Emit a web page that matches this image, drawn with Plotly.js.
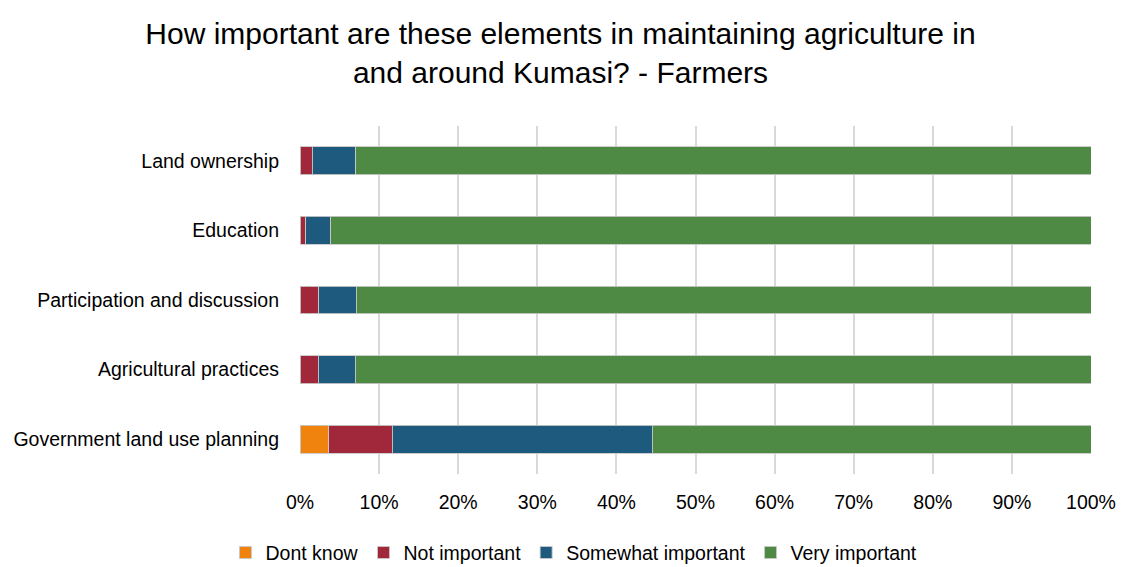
<!DOCTYPE html>
<html>
<head>
<meta charset="utf-8">
<script src="https://cdn.plot.ly/plotly-3.0.1.min.js"></script>
<style>html,body{margin:0;padding:0;background:#fff;}#chart{width:1121px;height:567px;}</style>
</head>
<body>
<div id="chart"></div>
<script>
const categories = ["Land ownership", "Education", "Participation and discussion", "Agricultural practices", "Government land use planning"];
const seriesNames = ["Dont know", "Not important", "Somewhat important", "Very important"];
const dontKnow = [0, 0, 0, 0, 3.65];
const notImportant = [1.55, 0.75, 2.4, 2.3, 8.0];
const somewhatImportant = [5.5, 3.15, 4.7, 4.7, 32.85];
const veryImportant = [92.95, 96.1, 92.9, 93.0, 55.5];
const seriesValues = [dontKnow, notImportant, somewhatImportant, veryImportant];
const colors = ["#F0820E", "#A1283A", "#1E5A7E", "#4F8A45"];
const tickVals = [0,10,20,30,40,50,60,70,80,90,100];
const tickText = ["0%","10%","20%","30%","40%","50%","60%","70%","80%","90%","100%"];

const FONT = "'Liberation Sans', Arial, sans-serif";

const traces = seriesNames.map((name, i) => ({
  type: 'bar',
  orientation: 'h',
  name: name,
  y: categories,
  x: seriesValues[i],
  marker: {color: colors[i], line: {color: 'rgba(200,200,200,0.9)', width: 1}},
  hoverinfo: 'x+y+name'
}));

const layout = {
  width: 1121, height: 567,
  paper_bgcolor: '#fff', plot_bgcolor: '#fff',
  barmode: 'stack',
  bargap: 0.6,
  margin: {l: 300, r: 30, t: 126, b: 93},
  title: {
    text: 'How important are these elements in maintaining agriculture in<br>and around Kumasi? - Farmers',
    font: {family: FONT, size: 30, color: '#000'},
    x: 0.5, xanchor: 'center', xref: 'container',
    y: 0.923, yanchor: 'top', yref: 'container'
  },
  xaxis: {
    range: [0, 100], tickvals: tickVals, ticktext: tickText,
    showgrid: true, gridcolor: '#d9d9d9', gridwidth: 2,
    zeroline: false, showline: false, ticks: '',
    ticklabelstandoff: 14,
    tickfont: {family: FONT, size: 19.5, color: '#000'}
  },
  yaxis: {
    autorange: 'reversed', showgrid: false, zeroline: false, showline: false,
    ticks: '', ticklen: 0, ticklabelstandoff: 20,
    tickfont: {family: FONT, size: 19.5, color: '#000'}
  },
  legend: {
    orientation: 'h', x: 0.512, xanchor: 'center', xref: 'container',
    y: 0.025, yanchor: 'middle', yref: 'container', traceorder: 'normal',
    font: {family: FONT, size: 19.5, color: '#000'}
  },
  showlegend: true
};

Plotly.newPlot('chart', traces, layout, {displayModeBar: false});
</script>
</body>
</html>
